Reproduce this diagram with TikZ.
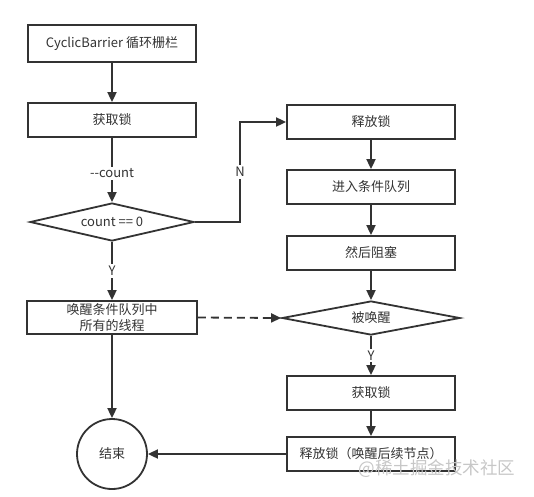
\documentclass[tikz,border=0pt]{standalone}
\usepackage{fontspec}
\setmainfont{Noto Sans CJK SC}
\usetikzlibrary{shapes.geometric,arrows.meta}
\definecolor{ink}{HTML}{333333}
\begin{document}
\begin{tikzpicture}[x=1pt,y=-1pt,
  every node/.style={font=\fontsize{13}{16}\selectfont, text=ink},
  box/.style={draw=ink, line width=1.8pt, rectangle, minimum width=168pt, minimum height=34pt, inner sep=0pt, align=center},
  dia/.style={draw=ink, line width=1.8pt, diamond, inner sep=0pt},
  arr/.style={draw=ink, line width=1.8pt, -{Triangle[length=10pt,width=9pt]}},
  lbl/.style={fill=white, inner sep=2pt}]
\useasboundingbox (0,0) rectangle (534,496);
% left column
\node[box, minimum height=37pt] (b1) at (112,43.5) {CyclicBarrier 循环栅栏};
\node[box] (b2) at (112,120) {获取锁};
\node[dia, minimum width=164pt, minimum height=38pt] (d1) at (112,222) {};
\node (d1t) at (d1.center) {count == 0};
\node[box, minimum width=170pt, minimum height=33pt, font=\fontsize{13}{16}\selectfont] (b3) at (112,317.5) {唤醒条件队列中\\所有的线程};
\node[circle, draw=ink, line width=1.8pt, minimum size=70pt, inner sep=0pt] (end) at (112,454) {结束};
% right column
\node[box] (r1) at (371,122) {释放锁};
\node[box] (r2) at (371,187) {进入条件队列};
\node[box] (r3) at (371,253) {然后阻塞};
\node[dia, minimum width=178pt, minimum height=34pt] (d2) at (371,318) {};
\node (d2t) at (d2.center) {被唤醒};
\node[box] (r4) at (371,393) {获取锁};
\node[box] (r5) at (371,454) {释放锁（唤醒后续节点）};
% connectors
\draw[arr] (b1) -- (b2);
\draw[arr] (b2) -- node[lbl, pos=0.55]{-{}-count} (d1);
\coordinate (nc) at (240,222);
\coordinate (nu) at (240,122);
\draw[arr] (d1.east) -- (nc) -- node[lbl]{N} (nu) -- (r1.west);
\draw[arr] (d1) -- node[lbl, pos=0.5]{Y} (b3);
\draw[arr] (b3) -- (end);
\draw[arr, dash pattern=on 8pt off 5pt] (b3.east) -- (d2.west);
\draw[arr] (r1) -- (r2);
\draw[arr] (r2) -- (r3);
\draw[arr] (r3) -- (d2);
\draw[arr] (d2) -- node[lbl]{Y} (r4);
\draw[arr] (r4) -- (r5);
\draw[arr] (r5.west) -- (end.east);
% watermark
\node[text=black!22, font=\fontsize{17.5}{17.5}\selectfont, inner sep=0pt] (wm) at (437,469) {@稀土掘金技术社区};
\end{tikzpicture}
\end{document}
